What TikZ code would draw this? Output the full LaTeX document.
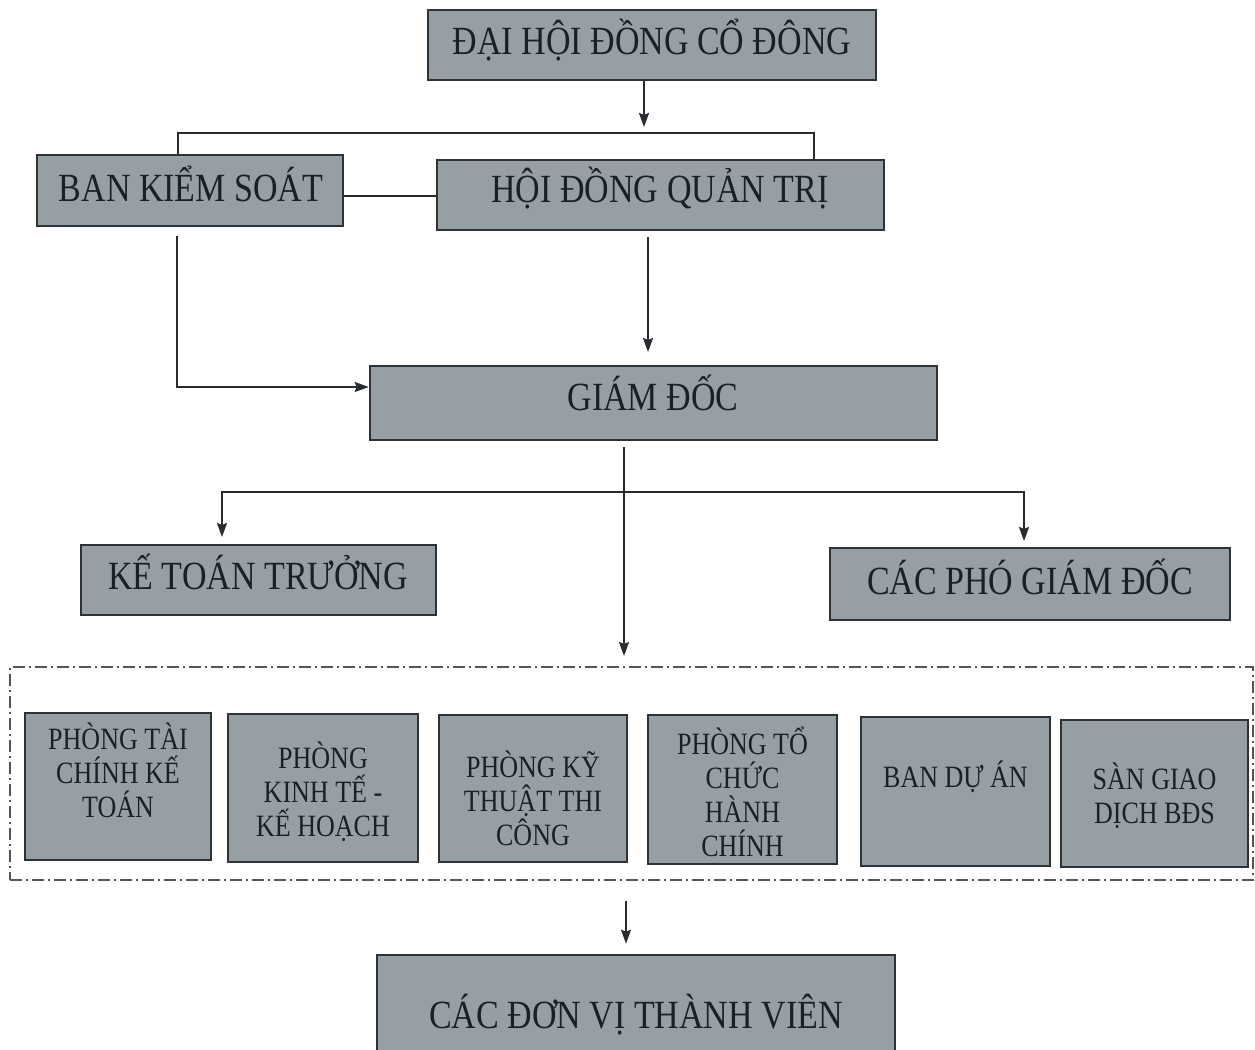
\documentclass[tikz,border=0pt]{standalone}
\usepackage{fontspec}
\setmainfont{Liberation Serif}[FakeStretch=0.85]
\newfontfamily\smallf{Liberation Serif}[FakeStretch=0.84]
\usetikzlibrary{arrows.meta,calc}
\definecolor{boxfill}{RGB}{150,159,164}
\definecolor{boxline}{RGB}{45,50,55}
\definecolor{txt}{RGB}{28,32,36}
\definecolor{conn}{RGB}{40,44,48}
\tikzset{
  box/.style={draw=boxline, fill=boxfill, line width=1.3pt, rectangle, inner sep=0pt},
  bigtxt/.style={text=txt, font=\fontsize{20}{24}\selectfont, inner sep=0pt},
  smalltxt/.style={text=txt, font=\smallf\fontsize{15.5}{17}\selectfont, align=center, inner sep=0pt},
  line/.style={draw=conn, line width=1pt},
  arr/.style={line, -{Stealth[length=7pt,width=5pt,inset=1pt]}},
  frame/.style={draw=conn!80, line width=1pt, dash pattern=on 6pt off 2pt on 1pt off 2pt, rectangle, inner sep=0pt}
}
\begin{document}
\begin{tikzpicture}[x=0.5pt,y=-0.5pt]
\useasboundingbox (0,0) rectangle (1255,1050);
\fill[white] (0,0) rectangle (1255,1050);

% main boxes
\node[box, minimum width=224pt, minimum height=35pt] (dh) at (652,45) {};
\node[bigtxt] at (652,40) {ĐẠI HỘI ĐỒNG CỔ ĐÔNG};
\node[box, minimum width=153pt, minimum height=35.5pt] (bks) at (190,190.5) {};
\node[bigtxt] at (191,184) {BAN KIỂM SOÁT};
\node[box, minimum width=223.5pt, minimum height=35pt] (hd) at (660.5,195) {};
\node[bigtxt] at (660,188) {HỘI ĐỒNG QUẢN TRỊ};
\node[box, minimum width=283.5pt, minimum height=37pt] (gd) at (653.5,403) {};
\node[bigtxt] at (653,393) {GIÁM ĐỐC};
\node[box, minimum width=177.5pt, minimum height=35pt] (ktt) at (258.5,580) {};
\node[bigtxt] at (258,572) {KẾ TOÁN TRƯỞNG};
\node[box, minimum width=200pt, minimum height=36pt] (pgd) at (1030,584) {};
\node[bigtxt] at (1030,577) {CÁC PHÓ GIÁM ĐỐC};

% group frame
\node[frame, minimum width=621.5pt, minimum height=106.5pt] (grp) at (631.5,773.5) {};

% departments
\node[box, minimum width=93pt, minimum height=73.5pt] (p1) at (118,786.5) {};
\node[smalltxt] at (118,770) {PHÒNG TÀI\\CHÍNH KẾ\\TOÁN};
\node[box, minimum width=95pt, minimum height=74pt] (p2) at (323,788) {};
\node[smalltxt] at (323,792) {PHÒNG\\KINH TẾ -\\KẾ HOẠCH};
\node[box, minimum width=94pt, minimum height=73.5pt] (p3) at (533,788.5) {};
\node[smalltxt] at (533,798) {PHÒNG KỸ\\THUẬT THI\\CÔNG};
\node[box, minimum width=94.5pt, minimum height=74.5pt] (p4) at (742.5,789.5) {};
\node[smalltxt] at (742.5,792) {PHÒNG TỔ\\CHỨC\\HÀNH\\CHÍNH};
\node[box, minimum width=94.5pt, minimum height=74.5pt] (p5) at (955.5,791.5) {};
\node[smalltxt] at (955.5,777) {BAN DỰ ÁN};
\node[box, minimum width=93.5pt, minimum height=73.5pt] (p6) at (1154.5,793.5) {};
\node[smalltxt] at (1154.5,796) {SÀN GIAO\\DỊCH BĐS};

% bottom box
\node[box, minimum width=259pt, minimum height=50pt] (cdv) at (636,1005) {};
\node[bigtxt] at (636,1015) {CÁC ĐƠN VỊ THÀNH VIÊN};

% connectors
\coordinate (j1) at (644,127);
\draw[arr] (dh.south -| j1) -- (j1);
\coordinate (bl) at (178,133);
\coordinate (br) at (814,133);
\draw[line] (bks.north -| bl) -- (bl) -- (br) -- (hd.north -| br);
\coordinate (mid) at (390,196);
\draw[line] (bks.east |- mid) -- (hd.west |- mid);
\coordinate (c1) at (177,387);
\draw[arr, shorten <=4.5pt] (bks.south -| c1) -- (c1) -- (gd.west |- c1);
\coordinate (c2) at (648,352);
\draw[arr, shorten <=3pt] (hd.south -| c2) -- (c2);
\coordinate (c3) at (624,656);
\draw[arr, shorten <=3pt] (gd.south -| c3) -- (c3);
\coordinate (hb) at (624,492);
\coordinate (kt) at (222,537);
\coordinate (pt) at (1024,541);
\draw[arr] (hb) -- (hb -| kt) -- (kt);
\draw[arr] (hb) -- (hb -| pt) -- (pt);
\coordinate (b1) at (626,900);
\draw[arr, shorten <=10pt, shorten >=5pt] (grp.south -| b1) -- (cdv.north -| b1);
\end{tikzpicture}
\end{document}
